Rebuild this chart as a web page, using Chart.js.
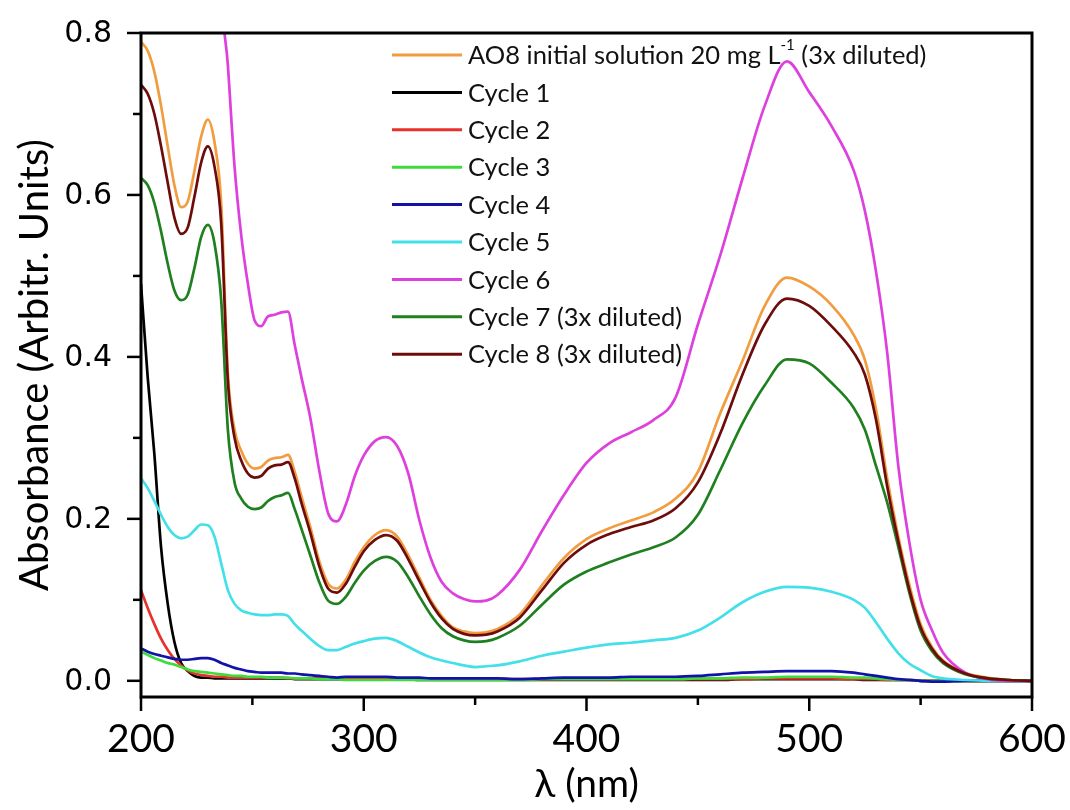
<!DOCTYPE html>
<html>
<head>
<meta charset="utf-8">
<script src="https://cdn.jsdelivr.net/npm/chart.js@4.4.1/dist/chart.umd.min.js"></script>
<style>
  html, body { margin: 0; padding: 0; background: #ffffff; }
  #wrap { width: 1070px; height: 810px; }
</style>
</head>
<body>
<div id="wrap"><canvas id="spectra" width="1070" height="810"></canvas></div>
<script>
// Wavelength grid (nm) shared by all spectra
const wavelength = [200,203,206,209,212,215,218,221,224,227,230,233,236,239,242,245,248,251,254,257,
  260,263,266,269,272,276,280,284,288,292,296,300,305,310,315,320,325,330,335,340,
  345,350,355,360,370,380,390,400,410,420,430,440,450,460,470,480,490,500,510,520,
  525,530,535,540,545,550,555,560,570,580,590,600];

// Absorbance of each spectrum on the grid above
const ao8Initial = [.789,.778,.752,.710,.660,.612,.585,.592,.630,.672,
  .693,.665,.590,.380,.310,.284,.268,.262,.264,.272,
  .275,.276,.279,.258,.228,.190,.148,.120,.114,.125,
  .147,.165,.180,.186,.178,.155,.127,.100,.080,.066,
  .061,.059,.060,.064,.082,.118,.152,.175,.188,.198,
  .208,.225,.258,.330,.395,.463,.498,.487,.464,.427,
  .396,.335,.250,.178,.118,.070,.042,.025,.010,.004,
  .001,0];
const cycle1 = [.490,.375,.280,.165,.095,.048,.022,.012,.006,.004,
  .004,.003,.003,.003,.003,.003,.003,.003,.003,.003,
  .003,.003,.003,.002,.002,.002,.002,.002,.002,.002,
  .002,.002,.002,.002,.002,.002,.001,.001,.001,.001,
  .001,.001,.001,.001,.001,.001,.001,.001,.001,.001,
  .001,.001,.001,.001,.002,.002,.002,.002,.002,.002,
  .001,.001,.001,.001,.001,0,0,0,0,0,
  0,0];
const cycle2 = [.112,.090,.070,.052,.038,.027,.019,.013,.009,.007,
  .006,.005,.005,.004,.004,.004,.004,.004,.004,.004,
  .004,.004,.003,.003,.003,.003,.003,.003,.003,.003,
  .003,.003,.002,.002,.002,.002,.002,.002,.002,.002,
  .002,.002,.002,.002,.002,.002,.002,.002,.002,.002,
  .002,.002,.002,.002,.002,.003,.003,.003,.003,.002,
  .002,.002,.001,.001,.001,0,0,0,0,0,
  0,0];
const cycle3 = [.036,.032,.028,.025,.022,.020,.017,.014,.012,.011,
  .010,.009,.008,.007,.006,.006,.005,.005,.005,.004,
  .004,.004,.004,.003,.003,.003,.002,.002,.002,.001,
  .001,.001,.001,.001,.001,.001,.001,.001,.001,.001,
  .001,.001,.001,.001,.001,.002,.002,.002,.002,.002,
  .002,.002,.003,.003,.004,.004,.005,.005,.005,.004,
  .004,.003,.002,.001,.001,0,0,0,0,0,
  0,0];
const cycle4 = [.040,.036,.033,.031,.029,.027,.026,.026,.027,.028,
  .028,.026,.022,.019,.016,.014,.012,.011,.010,.010,
  .010,.010,.009,.009,.008,.007,.006,.005,.004,.005,
  .005,.005,.005,.005,.004,.004,.004,.003,.003,.003,
  .003,.003,.003,.003,.002,.003,.004,.004,.004,.005,
  .005,.005,.006,.008,.010,.011,.012,.012,.012,.010,
  .008,.006,.004,.002,.001,0,-.001,-.001,0,0,
  0,0];
const cycle5 = [.250,.238,.222,.205,.190,.180,.176,.178,.186,.193,
  .192,.178,.145,.112,.095,.087,.084,.082,.081,.081,
  .082,.082,.080,.070,.062,.052,.043,.038,.038,.042,
  .046,.049,.052,.053,.049,.042,.035,.029,.025,.022,
  .019,.017,.018,.019,.024,.031,.036,.041,.045,.047,
  .050,.053,.062,.078,.097,.110,.116,.115,.110,.100,
  .090,.072,.052,.034,.021,.013,.006,.003,.001,0,
  0,0];
const cycle6 = [1.90,1.90,1.90,1.90,1.90,1.88,1.85,1.80,1.75,1.68,
  1.55,1.25,.870,.760,.635,.550,.490,.445,.438,.450,
  .452,.455,.456,.415,.375,.325,.260,.207,.197,.218,
  .253,.278,.296,.301,.290,.256,.198,.152,.122,.108,
  .101,.098,.099,.106,.137,.185,.230,.269,.293,.307,
  .322,.350,.440,.525,.620,.710,.765,.727,.685,.630,
  .580,.505,.405,.265,.170,.100,.063,.035,.010,.002,
  0,0];
const cycle7 = [.621,.612,.590,.555,.515,.482,.470,.477,.510,.548,
  .563,.540,.470,.310,.245,.225,.215,.212,.214,.222,
  .227,.229,.232,.212,.188,.155,.122,.099,.095,.104,
  .121,.136,.148,.153,.147,.128,.104,.082,.065,.055,
  .050,.048,.049,.053,.068,.094,.119,.135,.146,.156,
  .165,.177,.205,.260,.318,.365,.397,.392,.368,.337,
  .310,.265,.220,.165,.108,.062,.037,.022,.008,.003,
  .001,0];
const cycle8 = [.736,.725,.700,.660,.615,.572,.552,.560,.598,.640,
  .660,.635,.565,.370,.300,.272,.256,.251,.253,.262,
  .266,.267,.270,.250,.220,.183,.142,.114,.109,.120,
  .141,.160,.174,.180,.173,.150,.123,.097,.077,.064,
  .058,.056,.057,.061,.078,.112,.146,.168,.181,.190,
  .198,.213,.245,.305,.378,.440,.472,.463,.438,.405,
  .378,.322,.240,.172,.112,.066,.040,.024,.009,.003,
  .001,0];

const seriesLabels = [
  'AO8 initial solution 20 mg L{-1} (3x diluted)',
  'Cycle 1', 'Cycle 2', 'Cycle 3', 'Cycle 4', 'Cycle 5', 'Cycle 6',
  'Cycle 7 (3x diluted)', 'Cycle 8 (3x diluted)'
];
const seriesValues = [ao8Initial, cycle1, cycle2, cycle3, cycle4, cycle5, cycle6, cycle7, cycle8];
const seriesColors = ['#F29C40', '#000000', '#E8312A', '#3CDC3C', '#1212A8',
  '#44E0EA', '#DD40DD', '#1E801E', '#6E0C0C'];

// Axis ticks
const xTickValues = [200, 300, 400, 500, 600];
const xMinorTicks = [250, 350, 450, 550];
const yTickValues = [0, 0.2, 0.4, 0.6, 0.8];
const yMinorTicks = [0.1, 0.3, 0.5, 0.7];

const TEXT_FONT = 'Lato, "Open Sans", sans-serif';
const NUM_FONT = '"DejaVu Sans", Verdana, sans-serif';

const datasets = seriesValues.map((vals, i) => ({
  label: seriesLabels[i],
  data: wavelength.map((w, k) => ({ x: w, y: vals[k] })),
  borderColor: seriesColors[i],
  backgroundColor: seriesColors[i],
  borderWidth: 2.7,
  pointRadius: 0,
  cubicInterpolationMode: 'monotone',
  fill: false,
  order: seriesValues.length - 1 - i
}));

// Box frame, outward tick marks with their labels, and the in-plot legend
const frameTicksLegend = {
  id: 'frameTicksLegend',
  afterDraw(chart) {
    const { ctx, chartArea: a, scales: { x, y } } = chart;
    ctx.save();
    ctx.strokeStyle = '#000';
    ctx.lineWidth = 3;
    ctx.strokeRect(a.left, a.top, a.right - a.left, a.bottom - a.top);

    ctx.lineWidth = 2.5;
    const seg = (x0, y0, x1, y1) => { ctx.beginPath(); ctx.moveTo(x0, y0); ctx.lineTo(x1, y1); ctx.stroke(); };
    yTickValues.forEach(v => { const p = y.getPixelForValue(v); seg(a.left, p, a.left - 14, p); });
    yMinorTicks.forEach(v => { const p = y.getPixelForValue(v); seg(a.left, p, a.left - 8, p); });
    xTickValues.forEach(v => { const p = x.getPixelForValue(v); seg(p, a.bottom, p, a.bottom + 14); });
    xMinorTicks.forEach(v => { const p = x.getPixelForValue(v); seg(p, a.bottom, p, a.bottom + 8); });

    // tick labels
    ctx.fillStyle = '#000';
    ctx.font = '30px ' + NUM_FONT;
    ctx.textAlign = 'right';
    ctx.textBaseline = 'middle';
    yTickValues.forEach(v => ctx.fillText(v.toFixed(1), a.left - 29, y.getPixelForValue(v) + 1));
    ctx.font = '39px ' + TEXT_FONT;
    ctx.textAlign = 'center';
    ctx.textBaseline = 'alphabetic';
    xTickValues.forEach(v => ctx.fillText(String(v), x.getPixelForValue(v), a.bottom + 55));

    // legend
    const lineX0 = a.left + 251, lineX1 = a.left + 321, textX = a.left + 327;
    const rowY0 = a.top + 22, rowStep = 37.4;
    const mainFont = '25.5px ' + TEXT_FONT, supFont = '15px ' + TEXT_FONT;
    chart.data.datasets.forEach((ds, i) => {
      const ry = rowY0 + i * rowStep;
      ctx.strokeStyle = ds.borderColor;
      ctx.lineWidth = 3;
      seg(lineX0, ry, lineX1, ry);
      ctx.fillStyle = '#111';
      ctx.textBaseline = 'middle';
      ctx.textAlign = 'left';
      let cx = textX;
      ds.label.split(/(\{[^}]*\})/).forEach(part => {
        if (!part) return;
        if (part.startsWith('{')) {
          const s = part.slice(1, -1);
          ctx.font = supFont;
          ctx.fillText(s, cx, ry - 10);
          cx += ctx.measureText(s).width;
        } else {
          ctx.font = mainFont;
          ctx.fillText(part, cx, ry + 1);
          cx += ctx.measureText(part).width;
        }
      });
    });
    ctx.restore();
  }
};

new Chart(document.getElementById('spectra'), {
  type: 'line',
  data: { datasets },
  plugins: [frameTicksLegend],
  options: {
    responsive: false,
    animation: false,
    devicePixelRatio: 1,
    layout: { padding: { top: 33, right: 38, left: 0, bottom: 0 } },
    plugins: { legend: { display: false }, tooltip: { enabled: false } },
    scales: {
      x: {
        type: 'linear',
        min: 200, max: 600,
        afterBuildTicks: s => { s.ticks = xTickValues.map(v => ({ value: v })); },
        afterFit: s => { s.height = 113; },
        grid: { display: false, drawTicks: false, tickLength: 0 },
        border: { display: false },
        ticks: { display: false },
        title: {
          display: true, text: 'λ (nm)', color: '#000',
          font: { family: TEXT_FONT, size: 39 },
          padding: { top: 0, bottom: 2 }
        }
      },
      y: {
        type: 'linear',
        min: -0.02, max: 0.8,
        afterBuildTicks: s => { s.ticks = yTickValues.map(v => ({ value: v })); },
        afterFit: s => { s.width = 141; },
        grid: { display: false, drawTicks: false, tickLength: 0 },
        border: { display: false },
        ticks: { display: false },
        title: {
          display: true, text: 'Absorbance (Arbitr. Units)', color: '#000',
          font: { family: TEXT_FONT, size: 40 },
          padding: { top: 11, bottom: 0 }
        }
      }
    }
  }
});
</script>
</body>
</html>
